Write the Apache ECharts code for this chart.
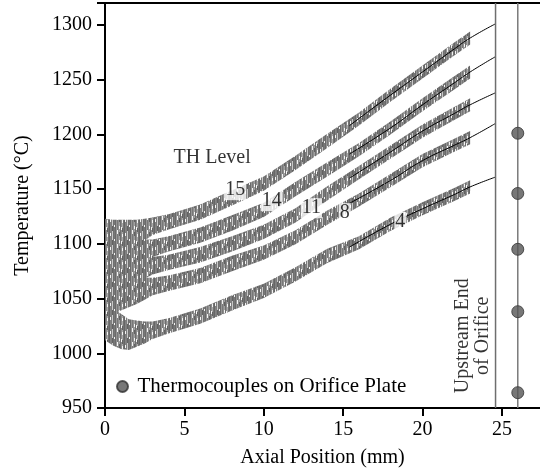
<!DOCTYPE html>
<html>
<head>
<meta charset="utf-8">
<script src="https://cdn.jsdelivr.net/npm/echarts@6/dist/echarts.min.js"></script>
<style>html,body{margin:0;padding:0;background:#fff}#c{width:540px;height:474px}</style>
</head>
<body>
<div id="c"></div>
<script>
// Axial positions (mm) where the noisy thermocouple traces were read
const xs = [0, 0.5, 1, 1.5, 2, 2.5, 3, 4, 6, 8, 10, 12, 14, 16, 18, 20, 22, 23];
// Centre of each noisy trace (°C) by TH level
const th15 = [1105, 1104, 1106, 1108, 1110, 1113, 1116, 1120, 1129, 1142, 1155, 1174, 1194, 1214, 1236, 1257, 1278, 1288];
const th14 = [1088, 1088, 1089, 1090, 1092, 1094, 1096, 1100, 1108, 1119, 1131, 1150, 1168, 1186, 1206, 1227, 1247, 1257];
const th11 = [1072, 1072, 1073, 1074, 1076, 1078, 1080, 1083, 1090, 1100, 1111, 1126, 1146, 1165, 1184, 1203, 1219, 1227];
const th8  = [1055, 1054, 1055, 1056, 1057, 1059, 1061, 1064, 1071, 1082, 1092, 1106, 1124, 1140, 1158, 1176, 1190, 1197];
const th4  = [1030, 1025, 1020, 1017, 1018, 1019, 1021, 1025, 1034, 1046, 1057, 1072, 1089, 1101, 1118, 1132, 1145, 1152];
// Half-spread of the measurement noise (°C) at each position
const noiseAmp = [18, 18, 16, 14, 12, 10, 8, 7, 7, 7, 6.5, 6.5, 6.5, 6, 6, 6, 6, 6];

// Fitted (black) curves
const fitX = [15.4, 18, 20, 22, 23, 24.6];
const fit15 = [1208, 1236, 1257, 1278, 1288, 1301];
const fit14 = [1182, 1206, 1227, 1247, 1257, 1271];
const fit11 = [1160, 1184, 1203, 1219, 1227, 1238];
const fit8  = [1137, 1158, 1176, 1190, 1197, 1210];
const fit4  = [1097, 1118, 1132, 1145, 1152, 1161];

// Thermocouples on orifice plate
const tcX = 26;
const tcY = [964, 1038, 1095, 1146, 1201];
const orificeX = 24.6;

// Annotation labels
const levelNames = ['TH Level', '15', '14', '11', '8', '4'];
const levelPos = [[6.75, 1179], [8.2, 1149], [10.5, 1139], [13.0, 1132.5], [15.1, 1128], [18.6, 1120]];
const xTicks = [0, 5, 10, 15, 20, 25];

const yMin = 950, yMax = 1320, xMin = 0, xMax = 27.4;
const FONT = 'Liberation Serif';

// Hatch texture imitating the dense vertical noise of the raw traces (style only)
function makeTexture() {
  const cols = ['#6e6e6e', '#8c8c8c', '#aaaaaa', '#747474', '#666666', '#828282', '#7d7d7d', '#c8c8c8',
                '#707070', '#787878', '#6a6a6a', '#969696', '#787878', '#8f8f8f', '#a0a0a0'];
  const cv = document.createElement('canvas');
  cv.width = cols.length; cv.height = 14;
  const g = cv.getContext('2d');
  cols.forEach((c, i) => {
    g.fillStyle = c; g.fillRect(i, 0, 1, 14);
  });
  g.fillStyle = '#f4f4f4';
  g.fillRect(1, 3, 1, 3); g.fillRect(5, 9, 1, 3); g.fillRect(9, 1, 1, 2); g.fillRect(12, 6, 1, 4);
  g.fillRect(2, 10, 1, 3); g.fillRect(14, 2, 1, 3);
  g.fillStyle = '#626262';
  g.fillRect(2, 4, 1, 4); g.fillRect(7, 2, 1, 5); g.fillRect(14, 8, 1, 4);
  return cv;
}
const texture = {image: makeTexture(), repeat: 'repeat'};

function band(center) {
  const data = xs.map((x, i) => [x, center[i] - noiseAmp[i], center[i] + noiseAmp[i]]);
  return {
    type: 'custom', silent: true, z: 2, clip: true,
    data: data, encode: {x: 0, y: [1, 2]},
    renderItem: function (params, api) {
      if (params.dataIndex !== 0) return null;
      const lo = data.map(d => api.coord([d[0], d[1]]));
      const hi = data.map(d => api.coord([d[0], d[2]])).reverse();
      return {type: 'polygon', shape: {points: lo.concat(hi)},
              style: {fill: texture}};
    }
  };
}
function fit(vals) {
  return {type: 'line', data: fitX.map((x, i) => [x, vals[i]]), symbol: 'none', smooth: true,
          silent: true, lineStyle: {color: '#000', width: 1}, z: 3};
}

const series = [];
[th15, th14, th11, th8, th4].forEach(c => series.push(band(c)));
[fit15, fit14, fit11, fit8, fit4].forEach(f => series.push(fit(f)));
series.push({type: 'line', data: [[orificeX, yMin], [orificeX, yMax]], symbol: 'none', silent: true,
             lineStyle: {color: '#6e6e6e', width: 1.5}, z: 4});
series.push({type: 'line', data: [[tcX, yMin], [tcX, yMax]], symbol: 'none', silent: true,
             lineStyle: {color: '#7a7a7a', width: 1.5}, z: 4});
series.push({name: 'Thermocouples on Orifice Plate', type: 'scatter', data: tcY.map(y => [tcX, y]),
             symbol: 'circle', symbolSize: 12,
             itemStyle: {color: '#555', borderColor: '#333', borderWidth: 1}, z: 5});
series.push({type: 'scatter', symbolSize: 0, silent: true, z: 6,
  data: levelNames.map((n, i) => ({name: n, value: levelPos[i]})),
  label: {show: true, position: 'inside', formatter: '{b}', color: '#000', fontFamily: FONT, fontSize: 20,
          backgroundColor: '#fff', padding: [0, 1]}});
series.push({type: 'scatter', symbolSize: 0, silent: true, z: 6,
  data: [{name: 'Upstream End\nof Orifice', value: [23.15, 1016]}],
  label: {show: true, position: 'inside', formatter: '{b}', rotate: 90, color: '#000', fontFamily: FONT,
          fontSize: 20, lineHeight: 20, align: 'center'}});

const chart = echarts.init(document.getElementById('c'), null, {renderer: 'canvas'});
chart.setOption({
  animation: false,
  backgroundColor: '#fff',
  grid: {left: 105, right: 0, top: 3, bottom: 66, outerBoundsMode: 'none', containLabel: false},
  legend: {data: [{name: 'Thermocouples on Orifice Plate', icon: 'circle'}], left: 116, top: 376, padding: 0,
           itemWidth: 20, itemHeight: 11, textStyle: {fontFamily: FONT, fontSize: 21, color: '#000'},
           selectedMode: false},
  xAxis: [{
    type: 'value', min: xMin, max: xMax, interval: 5,
    name: 'Axial Position (mm)', nameLocation: 'middle', nameGap: 40,
    nameTextStyle: {fontFamily: FONT, fontSize: 20, color: '#000'},
    axisLine: {lineStyle: {color: '#000', width: 2}},
    axisTick: {length: 8, lineStyle: {color: '#000', width: 2}, customValues: xTicks},
    axisLabel: {margin: 12, fontFamily: FONT, fontSize: 20, color: '#000', customValues: xTicks,
                formatter: v => (v % 5 === 0 ? String(v) : '')},
    splitLine: {show: false}
  }, {
    type: 'value', position: 'top', min: xMin, max: xMax,
    axisLine: {show: true, lineStyle: {color: '#000', width: 2}},
    axisTick: {show: false}, axisLabel: {show: false}, splitLine: {show: false}
  }],
  yAxis: {
    type: 'value', min: yMin, max: yMax, interval: 50,
    name: 'Temperature (°C)', nameLocation: 'middle', nameGap: 72, nameRotate: 90,
    nameTextStyle: {fontFamily: FONT, fontSize: 20, color: '#000'},
    axisLine: {show: true, lineStyle: {color: '#000', width: 2}},
    axisTick: {length: 8, lineStyle: {color: '#000', width: 2}},
    axisLabel: {margin: 13, fontFamily: FONT, fontSize: 20, color: '#000',
                formatter: v => (v % 50 === 0 ? String(v) : '')},
    splitLine: {show: false}
  },
  series: series
});
</script>
</body>
</html>
